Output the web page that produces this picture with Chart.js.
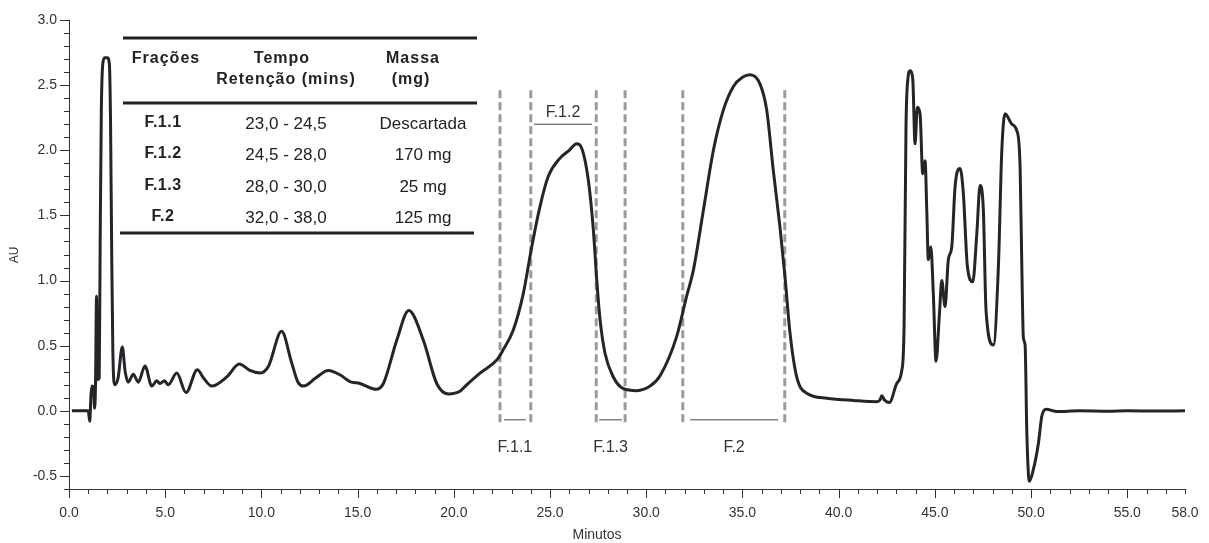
<!DOCTYPE html>
<html>
<head>
<meta charset="utf-8">
<script src="https://cdn.jsdelivr.net/npm/chart.js@4.4.1/dist/chart.umd.min.js"></script>
<style>
  body { margin: 0; background: #fff; }
  canvas { display: block; }
</style>
</head>
<body>
<canvas id="grafico" width="1209" height="543"></canvas>
<script>
// cromatograma: tempo (min) x absorbancia (AU)
const tempo = [
    0.15, 0.6, 1.0, 1.08, 1.14, 1.2, 1.27, 1.33, 1.38, 1.43, 1.48, 1.57, 1.62, 1.68, 1.76, 1.86,
    2.0, 2.1, 2.16, 2.22, 2.28, 2.38, 2.55, 2.77, 2.92, 3.08, 3.34, 3.6, 3.95, 4.3, 4.56, 4.73,
    4.96, 5.16, 5.6, 6.08, 6.67, 7.0, 7.42, 8.2, 8.85, 9.4, 9.93, 10.36, 11.05, 11.57, 11.9, 12.2,
    12.8, 13.48, 14.1, 14.6, 15.12, 15.96, 16.34, 17.03, 17.66, 18.42, 19.11, 19.72, 20.32, 20.67,
    21.36, 22.23, 22.57, 23.09, 23.61, 24.05, 24.48, 24.91, 25.52, 26.0, 26.39, 26.6, 26.99, 27.25,
    27.43, 27.6, 27.86, 28.29, 28.81, 29.5, 30.2, 30.72, 31.58, 32.1, 32.45, 32.97, 33.49, 34.01,
    34.53, 35.0, 35.4, 35.91, 36.26, 36.6, 36.95, 37.21, 37.47, 37.82, 38.34, 39.38, 40.76, 41.98,
    42.15, 42.24, 42.4, 42.64, 43.02, 43.28, 43.4, 43.5, 43.6, 43.71, 43.85, 43.97, 44.09, 44.23,
    44.37, 44.49, 44.58, 44.66, 44.79, 44.92, 45.06, 45.24, 45.36, 45.53, 45.7, 45.88, 46.05, 46.31,
    46.48, 46.69, 46.97, 47.18, 47.35, 47.52, 47.66, 48.04, 48.3, 48.48, 48.65, 49.0, 49.26, 49.43,
    49.52, 49.6, 49.69, 49.78, 49.91, 50.12, 50.38, 50.56, 50.78, 51.34, 52.5, 54.0, 55.0, 56.5, 58.0
];
const absorbancia = [
    0.0, 0.0, 0.0, -0.08, 0.12, 0.19, 0.18, 0.02, 0.22, 0.88, 0.24, 0.25, 1.3, 2.3, 2.67, 2.71,
    2.71, 2.66, 2.2, 1.2, 0.45, 0.2, 0.25, 0.49, 0.3, 0.22, 0.28, 0.22, 0.345, 0.19, 0.23, 0.21,
    0.23, 0.2, 0.29, 0.14, 0.315, 0.25, 0.19, 0.26, 0.36, 0.31, 0.29, 0.34, 0.61, 0.37, 0.22, 0.19,
    0.25, 0.31, 0.275, 0.225, 0.21, 0.165, 0.21, 0.54, 0.77, 0.54, 0.21, 0.13, 0.15, 0.2,
    0.29, 0.39, 0.47, 0.62, 0.9, 1.26, 1.57, 1.8, 1.94, 2.0, 2.05, 2.03, 1.77, 1.39,
    1.0, 0.7, 0.44, 0.26, 0.17, 0.155, 0.19, 0.27, 0.57, 0.88, 1.08, 1.54, 2.0, 2.31,
    2.49, 2.56, 2.58, 2.51, 2.31, 1.85, 1.41, 1.03, 0.6, 0.26, 0.135, 0.097, 0.08, 0.07,
    0.084, 0.115, 0.08, 0.064, 0.21, 0.31, 0.65, 2.18, 2.55, 2.61, 2.55, 2.05, 2.33, 2.28,
    1.82, 1.92, 1.54, 1.16, 1.26, 0.9, 0.38, 0.75, 1.0, 0.8, 1.16, 1.26, 1.72, 1.86,
    1.67, 1.11, 0.99, 1.36, 1.73, 1.54, 0.77, 0.505, 1.1, 2.0, 2.28, 2.2, 2.15, 1.87,
    1.1, 0.56, 0.505, -0.17, -0.54, -0.45, -0.25, -0.04, 0.013, -0.005, 0.0, -0.003, 0.0, -0.002, 0.0
];

// linhas tracejadas de corte das fracoes (min)
const cortes = [22.4, 24.0, 27.4, 28.9, 31.9, 37.2];
const corteTopo = 2.46;
const corteBase = -0.11;

// rotulos das fracoes no grafico
const fracoesRotulos = ['F.1.1', 'F.1.2', 'F.1.3', 'F.2'];
const fracoesInicio = [22.6, 24.17, 27.55, 32.28];
const fracoesFim = [23.75, 27.18, 28.74, 36.85];

// tabela
const tabFracoes = ['F.1.1', 'F.1.2', 'F.1.3', 'F.2'];
const tabTempos = ['23,0 - 24,5', '24,5 - 28,0', '28,0 - 30,0', '32,0 - 38,0'];
const tabMassas = ['Descartada', '170 mg', '25 mg', '125 mg'];

const FONTE = '"Liberation Sans", Arial, Helvetica, sans-serif';
Chart.defaults.font.family = FONTE;

function linha(ctx, x1, y1, x2, y2) {
    ctx.beginPath();
    ctx.moveTo(x1, y1);
    ctx.lineTo(x2, y2);
    ctx.stroke();
}

const extras = {
    id: 'extras',
    beforeDatasetsDraw(chart) {
        const ctx = chart.ctx;
        const xs = chart.scales.x, ys = chart.scales.y;
        ctx.save();
        ctx.strokeStyle = '#9b9b9b';
        ctx.lineWidth = 3;
        ctx.setLineDash([8, 4]);
        cortes.forEach(t => {
            const px = xs.getPixelForValue(t);
            linha(ctx, px, ys.getPixelForValue(corteTopo), px, ys.getPixelForValue(corteBase));
        });
        ctx.restore();
    },
    afterDraw(chart) {
        const ctx = chart.ctx;
        const xs = chart.scales.x, ys = chart.scales.y;
        const area = chart.chartArea;
        ctx.save();

        // marcas dos eixos
        ctx.strokeStyle = '#333';
        ctx.lineWidth = 1;
        for (let i = 0; i <= 58; i++) {
            const px = Math.round(xs.getPixelForValue(i)) + 0.5;
            const len = (i % 5 === 0) ? 9 : 5;
            linha(ctx, px, area.bottom, px, area.bottom + len);
        }
        for (let k = -6; k <= 30; k++) {
            const py = Math.round(ys.getPixelForValue(k / 10)) + 0.5;
            const len = (k % 5 === 0) ? 9 : 5;
            linha(ctx, area.left - len, py, area.left, py);
        }

        // titulos dos eixos
        ctx.fillStyle = '#333';
        ctx.font = '12px ' + FONTE;
        ctx.textAlign = 'center';
        ctx.textBaseline = 'middle';
        ctx.save();
        ctx.translate(15, 255);
        ctx.rotate(-Math.PI / 2);
        ctx.fillText('AU', 0, 0);
        ctx.restore();
        ctx.font = '14px ' + FONTE;
        ctx.fillText('Minutos', 597, 535);

        // rotulos das fracoes
        ctx.strokeStyle = '#444';
        ctx.lineWidth = 1;
        ctx.font = '16px ' + FONTE;
        fracoesRotulos.forEach((r, i) => {
            const x1 = xs.getPixelForValue(fracoesInicio[i]);
            const x2 = xs.getPixelForValue(fracoesFim[i]);
            const cx = (x1 + x2) / 2;
            if (r === 'F.1.2') {
                linha(ctx, x1, ys.getPixelForValue(2.2), x2, ys.getPixelForValue(2.2));
                ctx.fillText(r, cx, ys.getPixelForValue(2.29));
            } else {
                linha(ctx, x1, ys.getPixelForValue(-0.069), x2, ys.getPixelForValue(-0.069));
                ctx.fillText(r, cx, ys.getPixelForValue(-0.28));
            }
        });

        // tabela
        const L = area.left, T = area.top;
        ctx.strokeStyle = '#222';
        ctx.lineWidth = 3;
        linha(ctx, L + 54, T + 18, L + 408, T + 18);
        linha(ctx, L + 54, T + 83, L + 408, T + 83);
        linha(ctx, L + 51, T + 213, L + 405, T + 213);

        ctx.fillStyle = '#222';
        ctx.font = 'bold 16px ' + FONTE;
        ctx.letterSpacing = '1px';
        ctx.fillText('Frações', L + 97, T + 39);
        ctx.fillText('Tempo', L + 213, T + 39);
        ctx.fillText('Retenção (mins)', L + 217, T + 60);
        ctx.fillText('Massa', L + 344, T + 39);
        ctx.fillText('(mg)', L + 342, T + 60);

        const filas = [103, 134, 166, 197];
        tabFracoes.forEach((f, i) => {
            ctx.font = 'bold 16px ' + FONTE;
            ctx.letterSpacing = '0.5px';
            ctx.fillText(f, L + 94, T + filas[i]);
            ctx.font = '17px ' + FONTE;
            ctx.letterSpacing = '0px';
            ctx.fillText(tabTempos[i], L + 217, T + filas[i] + 1);
            ctx.fillText(tabMassas[i], L + 354, T + filas[i] + 1);
        });
        ctx.letterSpacing = '0px';
        ctx.restore();
    }
};

const ctx = document.getElementById('grafico').getContext('2d');
new Chart(ctx, {
    type: 'line',
    data: {
        datasets: [{
            data: tempo.map((t, i) => ({ x: t, y: absorbancia[i] })),
            borderColor: '#232629',
            borderWidth: 3,
            pointRadius: 0,
            fill: false,
            cubicInterpolationMode: 'monotone'
        }]
    },
    options: {
        responsive: false,
        animation: false,
        layout: { padding: { top: 20, right: 24, left: 0, bottom: 0 } },
        plugins: {
            legend: { display: false },
            tooltip: { enabled: false }
        },
        scales: {
            x: {
                type: 'linear',
                min: 0,
                max: 58,
                grid: { display: false, drawTicks: false },
                border: { display: true, color: '#333', width: 1 },
                afterBuildTicks: scale => {
                    const t = [];
                    for (let i = 0; i <= 58; i++) t.push({ value: i });
                    scale.ticks = t;
                },
                afterFit: scale => {
                    scale.height = 54;
                    scale.paddingLeft = 0;
                    scale.paddingRight = 0;
                },
                ticks: {
                    autoSkip: false,
                    maxRotation: 0,
                    padding: 16,
                    color: '#333',
                    font: { size: 14 },
                    callback: v => (v % 5 === 0 || v === 58) ? v.toFixed(1) : ''
                }
            },
            y: {
                type: 'linear',
                min: -0.6,
                max: 3.0,
                grid: { display: false, drawTicks: false },
                border: { display: true, color: '#333', width: 1 },
                afterBuildTicks: scale => {
                    const t = [];
                    for (let k = -6; k <= 30; k++) t.push({ value: k / 10 });
                    scale.ticks = t;
                },
                afterFit: scale => {
                    scale.width = 69;
                    scale.paddingTop = 0;
                    scale.paddingBottom = 0;
                },
                ticks: {
                    autoSkip: false,
                    padding: 12,
                    color: '#333',
                    font: { size: 14 },
                    callback: v => (Math.round(v * 10) % 5 === 0) ? v.toFixed(1) : ''
                }
            }
        }
    },
    plugins: [extras]
});
</script>
</body>
</html>
